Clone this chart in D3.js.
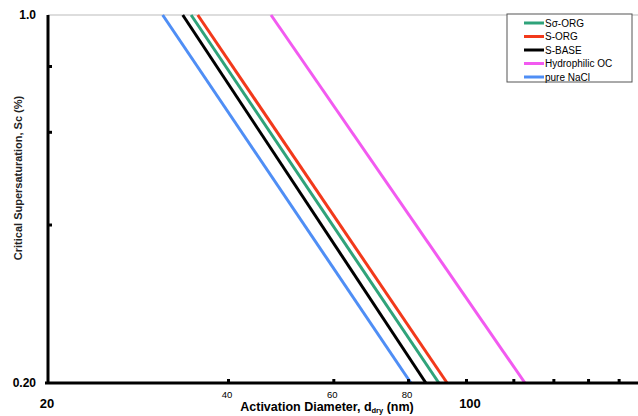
<!DOCTYPE html>
<html>
<head>
<meta charset="utf-8">
<script src="https://cdn.jsdelivr.net/npm/d3@7"></script>
<style>
  body { margin: 0; background: #fff; }
  text { font-family: "Liberation Sans", Arial, sans-serif; }
</style>
</head>
<body>
<svg id="chart" width="638" height="416"></svg>
<script>
// supersaturation levels (%) where each line is read
var scLevels = [1.0, 0.2];

// activation diameter (nm) at Sc = 1.0 and Sc = 0.2
var seriesNames = ["S\u03c3-ORG", "S-ORG", "S-BASE", "Hydrophilic OC", "pure NaCl"];
var sigmaOrg = [34.7, 90.1];
var sOrg = [35.6, 93.0];
var sBase = [33.6, 85.7];
var hydrophilicOC = [47.2, 125.5];
var pureNaCl = [31.1, 80.9];
var seriesColors = ["#2fa37a", "#f2391b", "#000000", "#f25af0", "#4f8ef5"];

var xTicks = [40, 60, 80, 100, 120, 140, 160, 180];
var xSmallLabels = [40, 60, 80];
var xBigLabels = [20, 100];
var yTicks = [0.4, 0.6, 0.8];

var series = [sigmaOrg, sOrg, sBase, hydrophilicOC, pureNaCl];
// draw order so black sits under green/red like the picture
var drawOrder = [4, 2, 0, 1, 3];

var svg = d3.select("#chart");

var x = d3.scaleLog().domain([20, 200]).range([48, 646]);
var y = d3.scaleLog().domain([0.2, 1.0]).range([383, 15]);

// top frame line
svg.append("line")
  .attr("x1", 48).attr("x2", 638)
  .attr("y1", y(1.0)).attr("y2", y(1.0))
  .style("stroke", "#bbb").style("stroke-width", 1);

// data lines
var line = d3.line()
  .x(function(d) { return x(d[0]); })
  .y(function(d) { return y(d[1]); });

drawOrder.forEach(function(i) {
  var pts = series[i].map(function(d, j) { return [d, scLevels[j]]; });
  svg.append("path")
    .datum(pts)
    .attr("d", line)
    .style("fill", "none")
    .style("stroke", seriesColors[i])
    .style("stroke-width", 3);
});

// x axis
var xAxis = svg.append("g")
  .attr("transform", "translate(0," + y(0.2) + ")")
  .call(d3.axisBottom(x).tickValues(xTicks).tickSize(-3).tickFormat(""));
xAxis.select(".domain").remove();
xAxis.selectAll(".tick line").style("stroke", "#000").style("stroke-width", 3).attr("y2", -4);
svg.append("line")
  .attr("x1", 45).attr("x2", 638)
  .attr("y1", y(0.2)).attr("y2", y(0.2))
  .style("stroke", "#000").style("stroke-width", 3);

// y axis
var yAxis = svg.append("g")
  .attr("transform", "translate(" + x(20) + ",0)")
  .call(d3.axisLeft(y).tickValues(yTicks).tickSize(-3).tickFormat(""));
yAxis.select(".domain").remove();
yAxis.selectAll(".tick line").style("stroke", "#000").style("stroke-width", 3).attr("x2", 4);
svg.append("line")
  .attr("x1", x(20)).attr("x2", x(20))
  .attr("y1", y(1.0)).attr("y2", y(0.2) + 1)
  .style("stroke", "#000").style("stroke-width", 3);

// tick labels
svg.selectAll(".xsmall")
  .data(xSmallLabels)
  .enter().append("text")
  .attr("x", function(d) { return x(d) - 1; })
  .attr("y", 398)
  .attr("text-anchor", "middle")
  .style("font-size", "9.5px")
  .text(function(d) { return d; });

svg.selectAll(".xbig")
  .data(xBigLabels)
  .enter().append("text")
  .attr("x", function(d) { return x(d) + (d === 20 ? -1 : 4); })
  .attr("y", 408)
  .attr("text-anchor", "middle")
  .style("font-size", "13px")
  .style("font-weight", "bold")
  .text(function(d) { return d; });

svg.selectAll(".ylab")
  .data(scLevels)
  .enter().append("text")
  .attr("x", 36)
  .attr("y", function(d) { return y(d) + 4; })
  .attr("text-anchor", "end")
  .style("font-size", "12px")
  .style("font-weight", "bold")
  .text(function(d) { return d === 1 ? "1.0" : "0.20"; });

// axis titles
var xt = svg.append("text")
  .attr("x", 327).attr("y", 411)
  .attr("text-anchor", "middle")
  .style("font-size", "12.5px")
  .style("font-weight", "bold");
xt.append("tspan").text("Activation Diameter, d");
xt.append("tspan").attr("dy", 2).style("font-size", "7.5px").text("dry");
xt.append("tspan").attr("dy", -2).text(" (nm)");

svg.append("text")
  .attr("transform", "translate(22,178) rotate(-90)")
  .attr("text-anchor", "middle")
  .style("font-size", "11px")
  .style("font-weight", "bold")
  .style("fill", "#222")
  .text("Critical Supersaturation, Sc (%)");

// legend
var legend = svg.append("g");
legend.append("rect")
  .attr("x", 507).attr("y", 14)
  .attr("width", 125).attr("height", 68)
  .style("fill", "#fff")
  .style("stroke", "#555").style("stroke-width", 1);

seriesNames.forEach(function(name, i) {
  var ly = 23 + i * 13.5;
  legend.append("line")
    .attr("x1", 524).attr("x2", 544)
    .attr("y1", ly).attr("y2", ly)
    .style("stroke", seriesColors[i]).style("stroke-width", 3);
  legend.append("text")
    .attr("x", 545).attr("y", ly + 3.5)
    .style("font-size", "10px")
    .text(name);
});
</script>
</body>
</html>
